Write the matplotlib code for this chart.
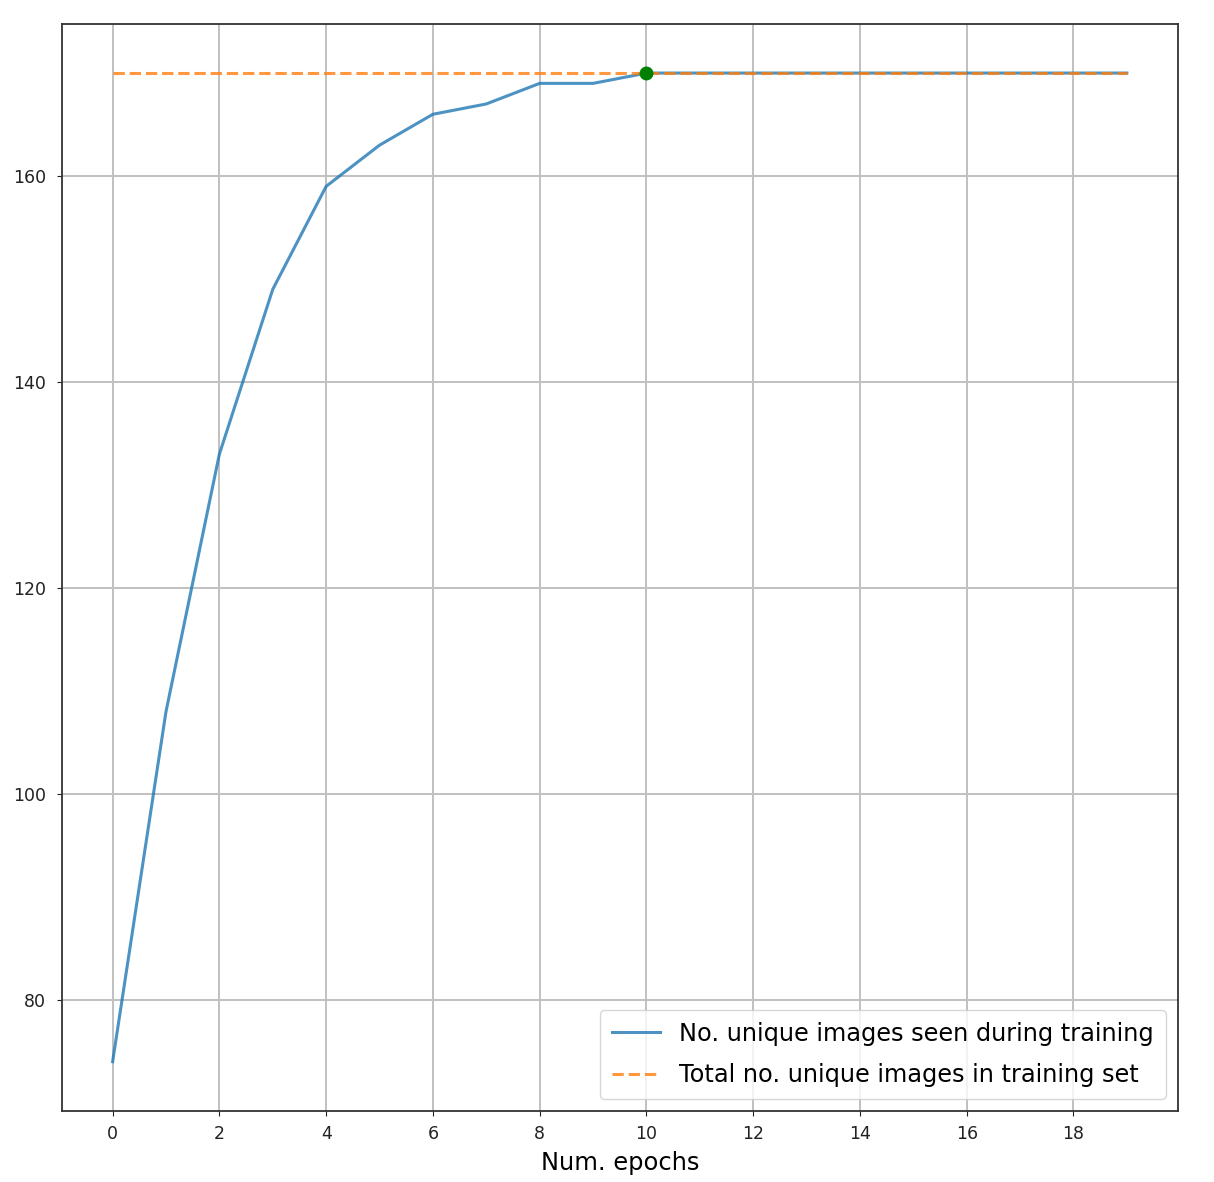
import matplotlib
matplotlib.use("Agg")
import matplotlib.pyplot as plt

epochs = list(range(20))
unique_seen = [74, 108, 133, 149, 159, 163, 166, 167, 169, 169, 170,
               170, 170, 170, 170, 170, 170, 170, 170, 170]
total_unique = 170
first_full_epoch = 10
x_ticks = list(range(0, 20, 2))

fig = plt.figure(figsize=(12.14, 11.82), dpi=100)
ax = fig.add_axes([0.051, 0.060, 0.919, 0.920])

ax.plot(epochs, unique_seen, color="#1f77b4", alpha=0.8, lw=2.2,
        label="No. unique images seen during training")
ax.plot(epochs, [total_unique] * len(epochs), color="#ff7f0e", alpha=0.8,
        lw=2.2, ls="--", label="Total no. unique images in training set")
ax.plot([first_full_epoch], [total_unique], "o", color="green", ms=9)

ax.set_xticks(x_ticks)
ax.tick_params(labelsize=12.5, colors="#222222")
ax.tick_params(axis="x", pad=6.5)
ax.tick_params(axis="y", pad=8)
ax.grid(True, color="#c0c0c0", lw=1.4)
for s in ax.spines.values():
    s.set_color("#333333")
    s.set_linewidth(1.3)
ax.set_xlabel("Num. epochs", fontsize=17.4, labelpad=6)
ax.legend(loc="lower right", fontsize=17.3, labelspacing=0.72,
          borderpad=0.5)

fig.savefig("out.png", dpi=100)
